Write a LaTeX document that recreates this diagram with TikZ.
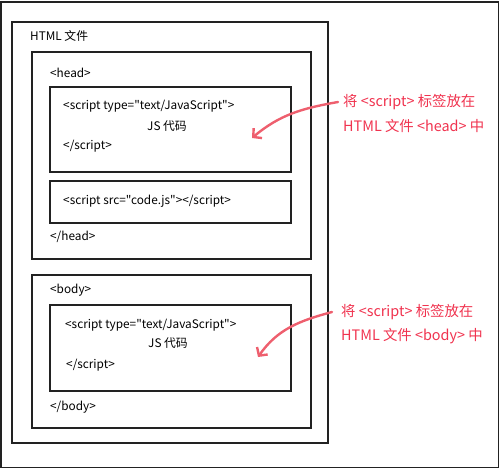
\documentclass[tikz,border=0pt]{standalone}
\usepackage{fontspec}
\setmainfont{Noto Sans CJK SC}[Ligatures=TeXOff]
\usetikzlibrary{positioning,arrows.meta}
\definecolor{frame}{HTML}{222222}
\definecolor{mark}{HTML}{F0334F}
\definecolor{markline}{HTML}{EE5F6E}

\begin{document}
\begin{tikzpicture}[x=1pt,y=-1pt,
  box/.style={draw=frame,line width=1.8pt,anchor=north west,inner sep=0pt},
  tag/.style={anchor=west,inner sep=0pt,font=\fontsize{11.8}{13}\selectfont},
  note/.style={anchor=west,inner sep=0pt,text=mark,font=\fontsize{14.4}{16}\selectfont},
  hint/.style={draw=markline,line width=2.4pt,line cap=round,-{Straight Barb[length=6pt,width=13pt]}}]
  \useasboundingbox (0,0) rectangle (500,469);
  \draw[frame,line width=1.6pt] (1,2) rectangle (498.5,467.5);
  % nested boxes
  \node[box,minimum width=316pt,minimum height=421pt] (html) at (11,21) {};
  \node[box,minimum width=279pt,minimum height=207pt] (head) at (31,51) {};
  \node[box,minimum width=241pt,minimum height=85pt] (s1) at (49,86) {};
  \node[box,minimum width=241pt,minimum height=42pt] (s2) at (49,180) {};
  \node[box,minimum width=279pt,minimum height=153pt] (body) at (31,274) {};
  \node[box,minimum width=241pt,minimum height=86pt] (s3) at (49,304) {};
  % texts
  \node[tag] (t0) at (30,36) {HTML 文件};
  \node[tag] (t1) at (50,73) {<head>};
  \node[tag] (t2) at (63,106) {<script type="text/JavaScript">};
  \node[tag,anchor=center] (t3) at (167,126) {JS 代码};
  \node[tag] (t4) at (63,146) {</script>};
  \node[tag] (t5) at (63,201) {<script src="code.js"></script>};
  \node[tag] (t6) at (50,237) {</head>};
  \node[tag] (t7) at (50,290) {<body>};
  \node[tag] (t8) at (65,325) {<script type="text/JavaScript">};
  \node[tag,anchor=center] (t9) at (168,343) {JS 代码};
  \node[tag] (t10) at (66,365) {</script>};
  \node[tag] (t11) at (50,407) {</body>};
  % notes
  \node[note] (n1) at (343,102) {将 <script> 标签放在};
  \node[note] (n2) at (343,126) {HTML 文件 <head> 中};
  \node[note] (n3) at (341,312) {将 <script> 标签放在};
  \node[note] (n4) at (341,336) {HTML 文件 <body> 中};
  \coordinate (p1) at (252,138);
  \coordinate (p3) at (258,357);
  \draw[hint] ([xshift=-5pt]n1.west) to[out=190,in=40] (p1);
  \draw[hint] ([xshift=-9pt]n3.west) to[out=195,in=55] (p3);
\end{tikzpicture}
\end{document}
